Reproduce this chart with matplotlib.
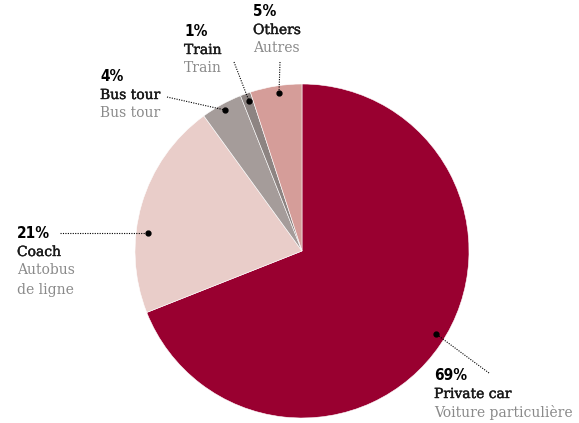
import matplotlib
matplotlib.use("Agg")
import matplotlib.pyplot as plt
import matplotlib.patheffects as pe

# data, clockwise from 12 o'clock
shares = [69, 21, 4, 1, 5]
pct_labels = ["69%", "21%", "4%", "1%", "5%"]
en_labels = ["Private car", "Coach", "Bus tour", "Train", "Others"]
fr_labels = [["Voiture particulière"], ["Autobus", "de ligne"], ["Bus tour"], ["Train"], ["Autres"]]
colors = ["#990030", "#e9cdc9", "#a59c9a", "#8d8482", "#d59d99"]

W, H = 579, 423
fig = plt.figure(figsize=(W / 100, H / 100), dpi=100)
ax = fig.add_axes([0, 0, 1, 1])

cx, cy, r = 302, H - 251, 167
ax.pie(shares, colors=colors, startangle=90, counterclock=False,
       center=(cx, cy), radius=r,
       wedgeprops=dict(edgecolor="white", linewidth=0.4))
ax.set_xlim(0, W)
ax.set_ylim(0, H)
ax.set_aspect("equal")
ax.axis("off")

# label layout (pixel coords, y measured from top)
text_pos = [(434, 375), (17, 233), (100, 76), (184, 31), (253, 11)]
dots = [(436, 334), (148, 233), (225, 110), (249, 101), (279, 93)]
line_start = [(489, 373), (60, 233), (167, 97), (234, 62), (280, 62)]

serif = "DejaVu Serif"
semibold = [pe.withStroke(linewidth=0.3, foreground="#1a1a1a")]
for i in range(len(shares)):
    tx, ty = text_pos[i]
    ax.text(tx, H - ty, pct_labels[i], ha="left", va="center", color="black",
            family="DejaVu Sans", stretch="condensed", weight="bold", size=11)
    ax.text(tx, H - ty - 19, en_labels[i], ha="left", va="center",
            family=serif, size=10, color="#1a1a1a", path_effects=semibold)
    for j, line in enumerate(fr_labels[i]):
        ax.text(tx, H - ty - 37 - 20 * j, line, ha="left", va="center",
                family=serif, size=10, color="#8a8a8a")
    dx, dy = dots[i]
    sx, sy = line_start[i]
    ax.plot([sx, dx], [H - sy, H - dy], color="black", lw=0.8, ls=(0, (1, 1.2)))
    ax.plot(dx, H - dy, "o", color="black", markersize=3.5)

fig.savefig("out.png", dpi=100)
